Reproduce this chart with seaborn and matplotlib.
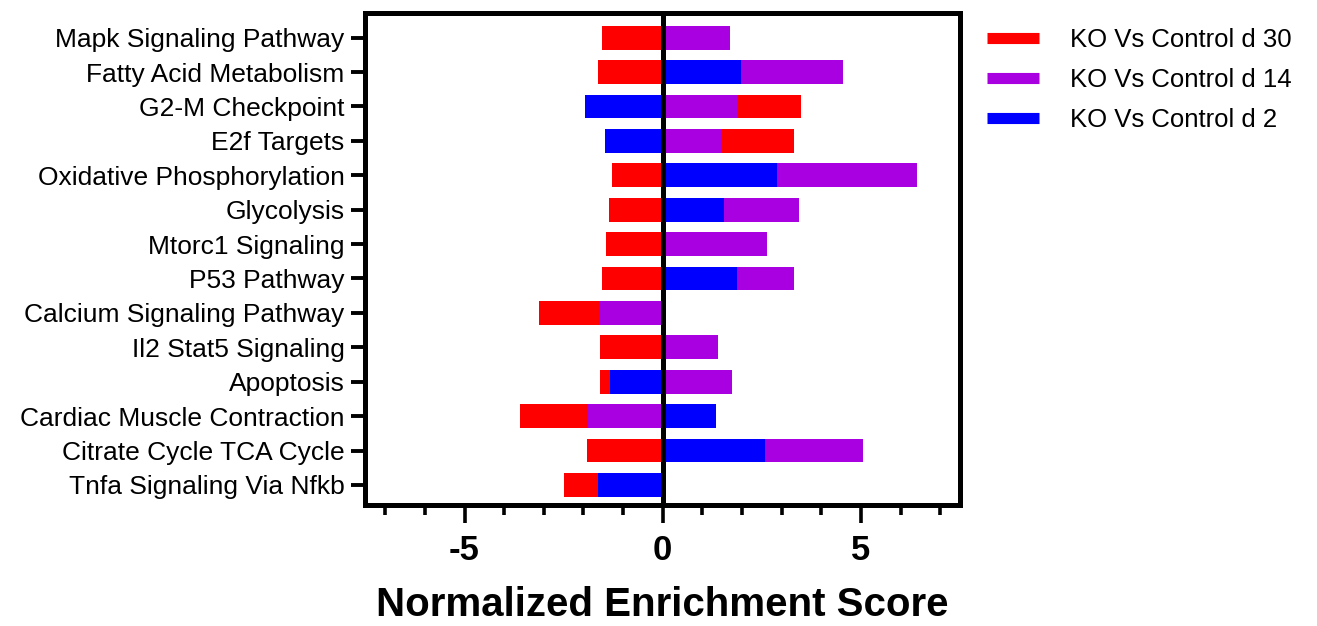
import pandas as pd
import numpy as np
import matplotlib
matplotlib.use('Agg')
import matplotlib.pyplot as plt
import seaborn as sb
from matplotlib.lines import Line2D
from matplotlib.ticker import MultipleLocator

pathways = ['Mapk Signaling Pathway', 'Fatty Acid Metabolism', 'G2-M Checkpoint',
            'E2f Targets', 'Oxidative Phosphorylation', 'Glycolysis',
            'Mtorc1 Signaling', 'P53 Pathway', 'Calcium Signaling Pathway',
            'Il2 Stat5 Signaling', 'Apoptosis', 'Cardiac Muscle Contraction',
            'Citrate Cycle TCA Cycle', 'Tnfa Signaling Via Nfkb']

# NES per comparison
nes_d2 = [0, 1.98, -1.95, -1.45, 2.88, 1.54, 0, 1.88, 0, 0, -1.34, 1.35, 2.59, -1.64]
nes_d14 = [1.70, 2.58, 1.89, 1.48, 3.53, 1.91, 2.62, 1.42, -1.57, 1.39, 1.75, -1.92, 2.47, 0]
nes_d30 = [-1.54, -1.63, 1.59, 1.82, -1.29, -1.36, -1.43, -1.52, -1.55, -1.58, -0.25, -1.67, -1.90, -0.84]

labels = ['KO Vs Control d 2', 'KO Vs Control d 14', 'KO Vs Control d 30']
colours = ['#0000FF', '#A800E0', '#FF0000']

df = pd.DataFrame({labels[0]: nes_d2, labels[1]: nes_d14, labels[2]: nes_d30},
                  index=pathways)

# positives and negatives stack separately, d2 innermost
pos = df.clip(lower=0)
neg = df.clip(upper=0)
pos_cum = pos.cumsum(axis=1).where(pos != 0, 0)
neg_cum = neg.cumsum(axis=1).where(neg != 0, 0)

sb.set_style('ticks')
plt.rcParams['font.family'] = ['Liberation Sans', 'DejaVu Sans']
plt.rcParams['axes.unicode_minus'] = False
plt.rcParams['text.color'] = 'black'
plt.rcParams['axes.labelcolor'] = 'black'
plt.rcParams['xtick.color'] = 'black'
plt.rcParams['ytick.color'] = 'black'

fig = plt.figure(figsize=(13.17, 6.26), dpi=100)
ax = fig.add_axes([0.2775, 0.194, 0.4514, 0.786])

# draw outer layers first so inner segments sit on top
for lab, col in zip(labels[::-1], colours[::-1]):
    for cum in (pos_cum, neg_cum):
        sb.barplot(x=cum[lab].values, y=pathways, order=pathways, orient='h',
                   color=col, saturation=1, width=0.69, linewidth=0,
                   errorbar=None, ax=ax)

ax.axvline(0, color='black', lw=3.6, zorder=5)
ax.set_xlim(-7.5, 7.5)
ax.set_ylim(13.57, -0.73)
ax.xaxis.set_major_locator(MultipleLocator(5))
ax.xaxis.set_minor_locator(MultipleLocator(1))

for s in ax.spines.values():
    s.set_linewidth(3.6)
    s.set_color('black')

ax.tick_params(axis='x', which='major', length=13, width=2.6, pad=8,
               labelsize=25, color='black')
ax.tick_params(axis='x', which='minor', length=7, width=2.6, color='black')
ax.tick_params(axis='y', length=10, width=2.8, pad=5, labelsize=19, color='black')
for t in ax.get_xticklabels():
    t.set_fontweight('bold')

ax.set_ylabel('')
ax.set_xlabel('Normalized Enrichment Score', fontsize=29, fontweight='bold', labelpad=14)

handles = [Line2D([0], [0], color=c, lw=8, solid_capstyle='butt')
           for c in colours[::-1]]
ax.legend(handles, labels[::-1], loc='upper left', bbox_to_anchor=(0.742, 0.972),
          bbox_transform=fig.transFigure, frameon=False, fontsize=18.5,
          borderaxespad=0, handlelength=2.0, handletextpad=1.2, labelspacing=0.62)

fig.savefig('out.png', dpi=100)
